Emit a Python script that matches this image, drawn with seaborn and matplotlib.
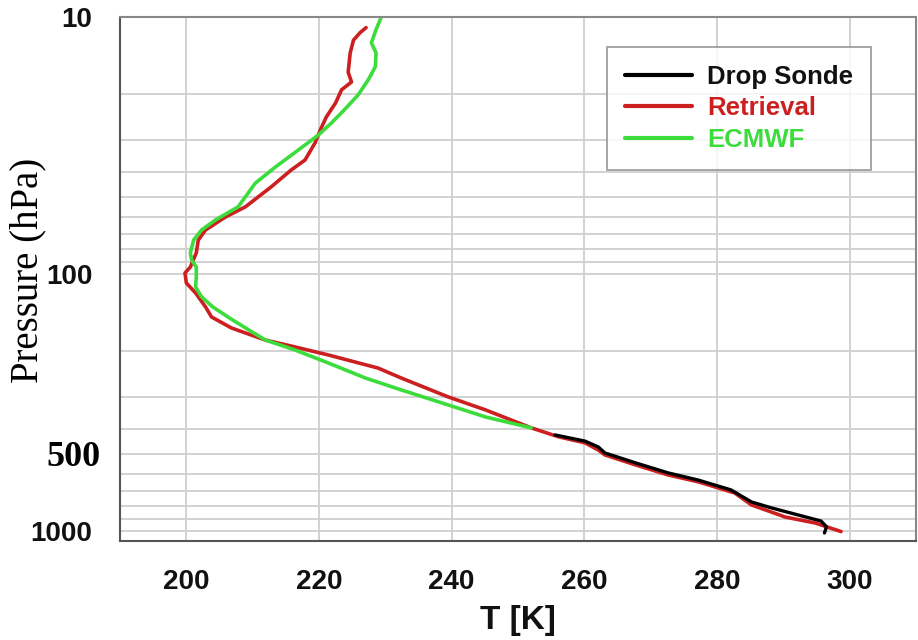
import matplotlib
matplotlib.use('Agg')
import matplotlib.pyplot as plt
import matplotlib.ticker as mticker
from matplotlib.transforms import ScaledTranslation
import seaborn as sns

# Perfiles de temperatura (T en K, p en hPa), de arriba hacia abajo
ecmwf_t = [229.4, 228.6, 227.9, 228.6, 228.5, 227.4, 225.9, 223.8, 221.9, 219.9,
           216.9, 213.4, 210.4, 209.3, 207.8, 204.4, 202.3, 201.1, 200.6, 200.8,
           201.5, 201.5, 201.4, 202.3, 204.0, 206.8, 211.9, 216.4, 221.4, 227.0,
           232.4, 239.5, 245.1, 252.0]
ecmwf_p = [10.0, 11.2, 12.6, 13.8, 15.6, 17.6, 20.1, 23.0, 25.8, 28.8,
           32.9, 38.4, 44.3, 48.5, 54.8, 61.6, 67.4, 73.8, 82.8, 88.2,
           94.0, 102.8, 112.4, 122.8, 134.4, 150.0, 180.7, 197.6, 222.0, 254.0,
           282.6, 323.4, 360.0, 397.0]

retrieval_t = [227.1, 226.2, 225.2, 224.7, 224.4, 224.9, 223.4, 222.5, 221.1, 220.2,
               219.4, 217.9, 215.8, 212.8, 208.9, 205.9, 202.9, 201.8, 201.5, 200.6,
               199.8, 200.0, 201.4, 202.9, 203.8, 206.8, 211.9, 216.4, 221.4, 228.9,
               232.4, 239.5, 245.1, 252.0, 256.1, 260.1, 262.1, 263.1, 267.7, 272.6,
               277.2, 280.2, 282.7, 285.2, 287.3, 290.3, 294.8, 298.7]
retrieval_p = [11.0, 11.5, 12.3, 13.8, 16.4, 17.9, 19.2, 21.6, 24.5, 27.5,
               30.9, 36.0, 39.4, 45.8, 54.8, 60.0, 67.4, 73.8, 82.8, 94.0,
               99.1, 108.4, 118.6, 134.4, 147.0, 162.2, 180.7, 192.3, 206.6, 232.3,
               254.0, 301.0, 338.0, 397.0, 430.0, 454.0, 484.0, 506.0, 553.0, 605.0,
               644.0, 680.0, 712.0, 792.0, 828.0, 883.0, 931.0, 1005.0]

sonde_t = [255.6, 260.1, 262.1, 263.1, 267.7, 272.6, 277.2, 282.1, 285.2, 288.2,
           292.2, 295.7, 296.5, 296.2]
sonde_p = [423.0, 447.0, 471.0, 497.0, 543.0, 594.0, 634.0, 692.0, 771.0, 813.0,
           866.0, 915.0, 964.0, 1018.0]

x_ticks = [200, 220, 240, 260, 280, 300]
y_ticks = [10, 100, 500, 1000]
y_tick_labels = ['10', '100', '500', '1000']

red = '#cc1f1f'
green = '#3ddc3d'

sns.set_style('white')
plt.rcParams['font.family'] = ['Liberation Sans', 'DejaVu Sans']

fig, ax = plt.subplots(figsize=(9.18, 6.4), dpi=100)
fig.subplots_adjust(left=120 / 918, right=916 / 918, top=1 - 17 / 640, bottom=1 - 541 / 640)

sns.lineplot(x=retrieval_t, y=retrieval_p, sort=False, estimator=None,
             color=red, lw=2.6, ax=ax, label='Retrieval')
sns.lineplot(x=ecmwf_t, y=ecmwf_p, sort=False, estimator=None,
             color=green, lw=2.6, ax=ax, label='ECMWF')
sns.lineplot(x=sonde_t, y=sonde_p, sort=False, estimator=None,
             color='black', lw=2.4, ax=ax, label='Drop Sonde')

ax.set_yscale('log')
ax.set_ylim(1094, 10)
ax.set_xlim(190, 310)

# Ticks y grilla
ax.xaxis.set_major_locator(mticker.FixedLocator(x_ticks))
ax.xaxis.set_minor_locator(mticker.MultipleLocator(4))
ax.yaxis.set_minor_locator(mticker.LogLocator(base=10, subs=range(2, 10)))
ax.yaxis.set_minor_formatter(mticker.NullFormatter())
ax.set_yticks(y_ticks)
ax.set_yticklabels(y_tick_labels)

ax.tick_params(axis='both', which='major', direction='out', length=7, width=1.3,
               color='#555555', labelsize=20, labelcolor='#111111')
ax.tick_params(axis='both', which='minor', direction='out', length=4, width=1.1,
               color='#555555')
ax.tick_params(axis='x', which='major', pad=13)
ax.tick_params(axis='y', which='major', pad=13)
for lbl in ax.get_xticklabels() + ax.get_yticklabels():
    lbl.set_fontweight('bold')

# La etiqueta 500 va en serif
lbl500 = ax.get_yticklabels()[2]
lbl500.set_fontfamily('Liberation Serif')
lbl500.set_fontsize(26)
lbl500.set_color('black')
lbl500.set_transform(lbl500.get_transform() + ScaledTranslation(8 / 100, 0, fig.dpi_scale_trans))

ax.grid(False)
ax.xaxis.grid(True, which='major', color='#cfcfcf', lw=1.3)
ax.yaxis.grid(True, which='both', color='#cfcfcf', lw=1.3)
ax.set_axisbelow(True)

for side in ['left', 'bottom']:
    ax.spines[side].set_color('#555555')
    ax.spines[side].set_linewidth(1.5)
for side in ['top', 'right']:
    ax.spines[side].set_color('#888888')
    ax.spines[side].set_linewidth(1.5)

ax.set_xlabel('T [K]', fontsize=24, fontweight='bold', color='#111111')
ax.xaxis.set_label_coords(0.5, -0.122)
ax.set_ylabel('Pressure (hPa)', fontsize=28, family='Liberation Serif', color='black')
ax.yaxis.set_label_coords(-0.093, 0.517)

# Leyenda
handles, labels = ax.get_legend_handles_labels()
order = [labels.index('Drop Sonde'), labels.index('Retrieval'), labels.index('ECMWF')]
leg = ax.legend([handles[i] for i in order], [labels[i] for i in order],
                loc='upper right', bbox_to_anchor=(0.944, 0.943),
                frameon=True, fancybox=False, edgecolor='#888888',
                prop={'weight': 'bold', 'size': 18.5},
                handlelength=2.6, handletextpad=0.6, labelspacing=0.29,
                borderpad=0.7, borderaxespad=0)
leg.get_frame().set_linewidth(1.3)
for line, text, c in zip(leg.get_lines(), leg.get_texts(), ['#111111', red, green]):
    line.set_linewidth(3)
    text.set_color(c)

fig.savefig('out.png', dpi=100)
